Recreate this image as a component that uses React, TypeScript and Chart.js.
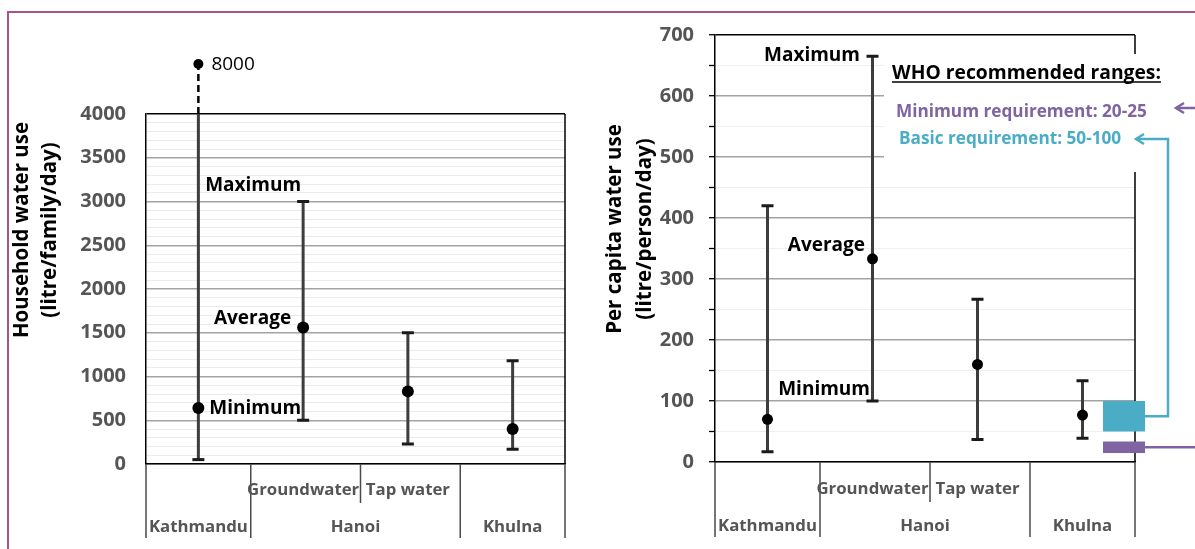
import React, { useEffect, useRef } from 'react';
import { Chart, registerables } from 'chart.js';

Chart.register(...registerables);

const FONT = '"Open Sans", "Noto Sans", "DejaVu Sans", sans-serif';

// ---------------- data ----------------
const categories = ['Kathmandu', 'Groundwater', 'Tap water', 'Khulna'];
const subLabels = ['', 'Groundwater', 'Tap water', ''];
const cityLabels = ['Kathmandu', 'Hanoi', 'Khulna'];
const citySpans = [[0, 0], [1, 2], [3, 3]];

const householdMin = [50, 500, 230, 170];
const householdAvg = [640, 1560, 830, 400];
const householdMax = [8000, 3000, 1500, 1180];
const householdAxisMax = 4000;
const householdMinorStep = 100;
const householdLabelStep = 500;
const householdTitle = ['Household water use', '(litre/family/day)'];

const perCapitaMin = [17, 100, 37, 39];
const perCapitaAvg = [70, 333, 160, 77];
const perCapitaMax = [420, 665, 267, 133];
const perCapitaAxisMax = 700;
const perCapitaMinorStep = 50;
const perCapitaLabelStep = 100;
const perCapitaTitle = ['Per capita water use', '(litre/person/day)'];

const rangeLabels = ['Maximum', 'Average', 'Minimum'];

const whoHeading = 'WHO recommended ranges:';
const whoMinimumRange = [20, 25];
const whoBasicRange = [50, 100];

// ---------------- styles ----------------
const TEAL = '#4bacc6';
const PURPLE = '#8064a2';
const BAR = '#3d3d3d';
const TICK_GRAY = '#555555';

type PanelDef = {
  id: string;
  width: number;
  left: number;
  min: number[];
  avg: number[];
  max: number[];
  axisMax: number;
  minorStep: number;
  labelStep: number;
  title: string[];
  titleX: number[];
  titleY: number;
  padding: { left: number; top: number; right: number; bottom: number };
  yWidth: number;
  tickPad: number;
  drawTicks: boolean;
  majorGrid: string;
  minorGrid: string;
  dotR: number;
  labelTarget: number;
  labelOffsets: number[][];
  breakOffset: number;
  row1Dy: number;
  row2Dy: number;
  sepLong: number;
  sepShort: number;
  who: boolean;
};

const leftPanel: PanelDef = {
  id: 'household',
  width: 600,
  left: 0,
  min: householdMin,
  avg: householdAvg,
  max: householdMax,
  axisMax: householdAxisMax,
  minorStep: householdMinorStep,
  labelStep: householdLabelStep,
  title: householdTitle,
  titleX: [22, 50],
  titleY: 230,
  padding: { left: 0, top: 114, right: 35, bottom: 85 },
  yWidth: 146,
  tickPad: 20,
  drawTicks: false,
  majorGrid: '#a3a3a3',
  minorGrid: '#ebebeb',
  dotR: 6,
  labelTarget: 1,
  labelOffsets: [[-2, -15.5], [-12, -8.5], [-2, -12]],
  breakOffset: 50,
  row1Dy: 26,
  row2Dy: 63.5,
  sepLong: 74,
  sepShort: 39,
  who: false,
};

const rightPanel: PanelDef = {
  id: 'percapita',
  width: 595,
  left: 600,
  min: perCapitaMin,
  avg: perCapitaAvg,
  max: perCapitaMax,
  axisMax: perCapitaAxisMax,
  minorStep: perCapitaMinorStep,
  labelStep: perCapitaLabelStep,
  title: perCapitaTitle,
  titleX: [15, 45],
  titleY: 229,
  padding: { left: 0, top: 35, right: 60, bottom: 87 },
  yWidth: 115,
  tickPad: 15,
  drawTicks: true,
  majorGrid: '#a3a3a3',
  minorGrid: '#efefef',
  dotR: 5.5,
  labelTarget: 1,
  labelOffsets: [[-12.5, -1], [-7.5, -13], [-2.5, -11]],
  breakOffset: 50,
  row1Dy: 27,
  row2Dy: 64,
  sepLong: 75,
  sepShort: 40,
  who: true,
};

function arrowHead(ctx: CanvasRenderingContext2D, tx: number, ty: number) {
  ctx.beginPath();
  ctx.moveTo(tx + 8, ty - 5);
  ctx.lineTo(tx, ty);
  ctx.lineTo(tx + 8, ty + 5);
  ctx.stroke();
}

function makePlugin(p: PanelDef) {
  return {
    id: 'custom_' + p.id,
    beforeDatasetsDraw(chart: any) {
      const ctx: CanvasRenderingContext2D = chart.ctx;
      const ca = chart.chartArea;
      const x = chart.scales.x;
      const y = chart.scales.y;
      ctx.save();

      // white box behind WHO legend text
      const boxTop = ca.top + 19;
      const boxBottom = ca.top + 137;
      if (p.who) {
        ctx.fillStyle = '#ffffff';
        ctx.fillRect(ca.left + 169, boxTop, chart.width, boxBottom - boxTop);
      }

      // right border
      ctx.strokeStyle = '#000';
      ctx.lineWidth = 1.5;
      ctx.beginPath();
      if (p.who) {
        ctx.moveTo(ca.right, ca.top);
        ctx.lineTo(ca.right, boxTop);
        ctx.moveTo(ca.right, boxBottom);
        ctx.lineTo(ca.right, ca.bottom);
      } else {
        ctx.moveTo(ca.right, ca.top);
        ctx.lineTo(ca.right, ca.bottom);
      }
      ctx.stroke();

      // category separators
      const centers = categories.map((_, i) => x.getPixelForValue(i));
      const bound = (i: number) => (centers[i] + centers[i + 1]) / 2;
      ctx.strokeStyle = '#4a4a4a';
      ctx.lineWidth = 1.5;
      const longXs: number[] = [ca.left, ca.right];
      citySpans.forEach((s, k) => {
        if (k < citySpans.length - 1) longXs.push(bound(s[1]));
      });
      ctx.beginPath();
      longXs.forEach((lx) => {
        ctx.moveTo(lx, ca.bottom);
        ctx.lineTo(lx, ca.bottom + p.sepLong);
      });
      citySpans.forEach((s) => {
        for (let i = s[0]; i < s[1]; i++) {
          const bx = bound(i) + 5;
          ctx.moveTo(bx, ca.bottom);
          ctx.lineTo(bx, ca.bottom + p.sepShort);
        }
      });
      ctx.stroke();

      // axis labels (two rows)
      ctx.fillStyle = TICK_GRAY;
      ctx.font = `bold 16.8px ${FONT}`;
      ctx.textAlign = 'center';
      ctx.textBaseline = 'middle';
      subLabels.forEach((t, i) => {
        if (t) ctx.fillText(t, centers[i], ca.bottom + p.row1Dy);
      });
      cityLabels.forEach((t, k) => {
        const s = citySpans[k];
        const cx = (centers[s[0]] + centers[s[1]]) / 2;
        ctx.fillText(t, cx, ca.bottom + p.row2Dy);
      });

      // y-axis title
      ctx.fillStyle = '#000';
      ctx.font = `bold 20.5px ${FONT}`;
      p.title.forEach((t, i) => {
        ctx.save();
        ctx.translate(p.titleX[i], p.titleY);
        ctx.rotate(-Math.PI / 2);
        ctx.fillText(t, 0, 0);
        ctx.restore();
      });

      // range bars
      const axisMax = y.max;
      categories.forEach((_, i) => {
        const cx = centers[i];
        const y0 = y.getPixelForValue(p.min[i]);
        const over = p.max[i] > axisMax;
        const y1 = y.getPixelForValue(Math.min(p.max[i], axisMax));
        ctx.strokeStyle = BAR;
        ctx.lineWidth = 3;
        ctx.beginPath();
        ctx.moveTo(cx, y0);
        ctx.lineTo(cx, y1);
        ctx.stroke();
        ctx.strokeStyle = '#1a1a1a';
        ctx.beginPath();
        ctx.moveTo(cx - 6, y0);
        ctx.lineTo(cx + 6, y0);
        if (!over) {
          ctx.moveTo(cx - 6, y1);
          ctx.lineTo(cx + 6, y1);
        }
        ctx.stroke();
        if (over) {
          const dotY = ca.top - p.breakOffset;
          ctx.strokeStyle = '#000';
          ctx.lineWidth = 2.5;
          ctx.setLineDash([7, 4]);
          ctx.beginPath();
          ctx.moveTo(cx, y1);
          ctx.lineTo(cx, dotY + 4);
          ctx.stroke();
          ctx.setLineDash([]);
          ctx.fillStyle = '#000';
          ctx.beginPath();
          ctx.arc(cx, dotY, 5, 0, Math.PI * 2);
          ctx.fill();
          ctx.font = `19px ${FONT}`;
          ctx.textAlign = 'left';
          ctx.textBaseline = 'middle';
          ctx.fillText(String(p.max[i]), cx + 13, dotY + 1);
        }
      });
      ctx.restore();
    },
    afterDatasetsDraw(chart: any) {
      const ctx: CanvasRenderingContext2D = chart.ctx;
      const ca = chart.chartArea;
      const x = chart.scales.x;
      const y = chart.scales.y;
      ctx.save();

      // Maximum / Average / Minimum labels
      const t = p.labelTarget;
      const vals = [p.max[t], p.avg[t], p.min[t]];
      const cx = x.getPixelForValue(t);
      ctx.fillStyle = '#000';
      ctx.font = `bold 19px ${FONT}`;
      ctx.textAlign = 'right';
      ctx.textBaseline = 'middle';
      rangeLabels.forEach((lab, k) => {
        const o = p.labelOffsets[k];
        ctx.fillText(lab, cx + o[0], y.getPixelForValue(vals[k]) + o[1]);
      });

      if (p.who) {
        const kx = x.getPixelForValue(categories.length - 1);
        const rx0 = kx + 20.5;
        const rx1 = kx + 62.5;
        const tb = y.getPixelForValue(whoBasicRange[1]);
        const bb = y.getPixelForValue(whoBasicRange[0]);
        ctx.fillStyle = TEAL;
        ctx.fillRect(rx0, tb, rx1 - rx0, bb - tb);
        const pm = y.getPixelForValue((whoMinimumRange[0] + whoMinimumRange[1]) / 2) - 1;
        const ph = Math.max(y.getPixelForValue(whoMinimumRange[0]) - y.getPixelForValue(whoMinimumRange[1]), 11.5);
        ctx.fillStyle = PURPLE;
        ctx.fillRect(rx0, pm - ph / 2, rx1 - rx0, ph);

        // heading
        ctx.fillStyle = '#000';
        ctx.font = `bold 19.3px ${FONT}`;
        ctx.textAlign = 'left';
        ctx.textBaseline = 'alphabetic';
        const hx = ca.left + 177;
        const hy = ca.top + 44;
        ctx.fillText(whoHeading, hx, hy);
        const hw = ctx.measureText(whoHeading).width;
        ctx.strokeStyle = '#000';
        ctx.lineWidth = 1.5;
        ctx.beginPath();
        ctx.moveTo(hx, hy + 3);
        ctx.lineTo(hx + hw, hy + 3);
        ctx.stroke();

        ctx.font = `bold 17.2px ${FONT}`;
        ctx.textBaseline = 'middle';
        const minY = ca.top + 77;
        const basicY = ca.top + 104;
        ctx.fillStyle = PURPLE;
        ctx.fillText(`Minimum requirement: ${whoMinimumRange[0]}-${whoMinimumRange[1]}`, ca.left + 181, minY);
        ctx.fillStyle = TEAL;
        ctx.fillText(`Basic requirement: ${whoBasicRange[0]}-${whoBasicRange[1]}`, ca.left + 184, basicY);

        // teal connector
        ctx.lineWidth = 2.5;
        ctx.strokeStyle = TEAL;
        const vx = ca.right + 33;
        const cy = (tb + bb) / 2;
        ctx.beginPath();
        ctx.moveTo(rx1, cy);
        ctx.lineTo(vx, cy);
        ctx.lineTo(vx, basicY);
        ctx.lineTo(ca.right + 1, basicY);
        ctx.stroke();
        arrowHead(ctx, ca.right + 1, basicY);

        // purple connector
        ctx.strokeStyle = PURPLE;
        ctx.beginPath();
        ctx.moveTo(rx1, pm);
        ctx.lineTo(chart.width, pm);
        ctx.moveTo(ca.right + 41, minY - 4);
        ctx.lineTo(chart.width, minY - 4);
        ctx.stroke();
        arrowHead(ctx, ca.right + 41, minY - 4);
      }
      ctx.restore();
    },
  };
}

function makeConfig(p: PanelDef): any {
  return {
    type: 'line',
    data: {
      labels: categories,
      datasets: [
        {
          data: p.avg,
          showLine: false,
          pointRadius: p.dotR,
          pointHoverRadius: p.dotR,
          pointBackgroundColor: '#000',
          pointBorderColor: '#000',
          pointBorderWidth: 0,
        },
      ],
    },
    options: {
      responsive: false,
      animation: false,
      events: [],
      layout: { padding: p.padding },
      plugins: {
        legend: { display: false },
        tooltip: { enabled: false },
        title: { display: false },
      },
      scales: {
        x: {
          type: 'category',
          offset: true,
          grid: { display: false },
          border: { display: true, color: '#000', width: 1.5 },
          ticks: { display: false },
          afterFit: (s: any) => {
            s.height = 0;
          },
        },
        y: {
          min: 0,
          max: p.axisMax,
          ticks: {
            stepSize: p.minorStep,
            autoSkip: false,
            callback: (v: any) => (Number(v) % p.labelStep === 0 ? String(v) : ''),
            color: TICK_GRAY,
            font: { family: FONT, size: 20, weight: 'bold' },
            padding: p.tickPad,
          },
          grid: {
            drawTicks: p.drawTicks,
            tickLength: 6,
            tickColor: '#000',
            tickWidth: 1.3,
            color: (c: any) => {
              const v = c.tick ? c.tick.value : 0;
              if (v === p.axisMax) return '#000';
              return v % p.labelStep === 0 ? p.majorGrid : p.minorGrid;
            },
            lineWidth: (c: any) => {
              const v = c.tick ? c.tick.value : 0;
              if (v === p.axisMax) return 1.5;
              return v % p.labelStep === 0 ? 1.4 : 1;
            },
          },
          border: { display: true, color: '#000', width: 1.5 },
          afterFit: (s: any) => {
            s.width = p.yWidth;
          },
        },
      },
    },
    plugins: [makePlugin(p)],
  };
}

function Panel({ panel }: { panel: PanelDef }) {
  const ref = useRef<HTMLCanvasElement>(null);
  useEffect(() => {
    if (!ref.current) return;
    const chart = new Chart(ref.current, makeConfig(panel));
    return () => chart.destroy();
  }, [panel]);
  return (
    <canvas
      ref={ref}
      width={panel.width}
      height={549}
      style={{ position: 'absolute', left: panel.left, top: 0, width: panel.width, height: 549 }}
    />
  );
}

export default function App() {
  return (
    <div
      style={{
        position: 'fixed',
        left: 0,
        top: 0,
        width: 1195,
        height: 549,
        background: '#ffffff',
        overflow: 'hidden',
      }}
    >
      <div
        style={{
          position: 'absolute',
          left: 7,
          top: 11,
          width: 1300,
          height: 700,
          borderTop: '2px solid #a8538a',
          borderLeft: '2px solid #a8538a',
        }}
      />
      <Panel panel={leftPanel} />
      <Panel panel={rightPanel} />
    </div>
  );
}
